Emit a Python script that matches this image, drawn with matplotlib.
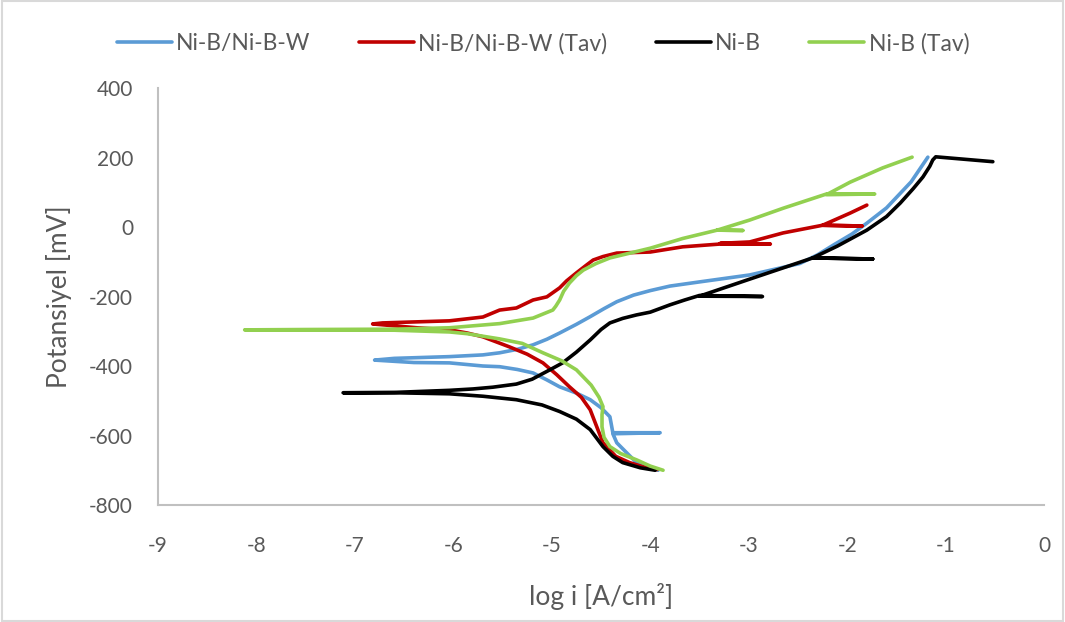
import matplotlib.pyplot as plt
from matplotlib.patches import Rectangle

# Ni-B/Ni-B-W (blue): cathodic tip -> Ecorr -> anodic end
nibw_x = [-3.92, -4.14, -4.34, -4.38, -3.90, -4.38, -4.41, -4.50, -4.61, -4.75, -4.92, -5.05,
          -5.19, -5.35, -5.53, -5.70, -6.04, -6.40, -6.80, -6.60, -6.04, -5.70, -5.53, -5.35,
          -5.19, -5.05, -4.92, -4.75, -4.61, -4.47, -4.34, -4.17, -4.00, -3.80, -3.50, -2.99,
          -2.48, -2.30, -2.14, -1.95, -1.80, -1.60, -1.46, -1.35, -1.29, -1.18]
nibw_y = [-700, -678, -621, -595, -592, -592, -546, -520, -497, -478, -460, -440,
          -420, -410, -402, -400, -391, -390, -383, -378, -373, -368, -362, -352,
          -339, -323, -305, -280, -258, -235, -215, -196, -183, -170, -158, -138,
          -105, -80, -52, -20, 11, 55, 97, 130, 155, 201]

# Ni-B/Ni-B-W (Tav) (red)
nibw_tav_x = [-3.93, -4.05, -4.21, -4.35, -4.48, -4.55, -4.61, -4.70, -4.82, -4.95, -5.09, -5.25,
              -5.43, -5.70, -5.86, -6.04, -6.37, -6.82, -6.72, -6.04, -5.70, -5.53, -5.36, -5.19,
              -5.05, -4.92, -4.85, -4.75, -4.65, -4.58, -4.48, -4.34, -4.00, -3.67, -3.29, -2.78,
              -3.29, -2.99, -2.65, -2.25, -1.85, -2.25, -1.97, -1.80]
nibw_tav_y = [-698, -692, -678, -660, -621, -570, -526, -490, -460, -425, -391, -366,
              -345, -316, -305, -296, -290, -279, -276, -270, -259, -239, -233, -210,
              -201, -175, -155, -132, -110, -95, -85, -75, -72, -57, -49, -49,
              -47, -43, -17, 5, 3, 5, 40, 63]

# Ni-B (black)
nib_x = [-3.95, -4.10, -4.28, -4.38, -4.48, -4.61, -4.75, -4.92, -5.10, -5.36, -5.70, -6.04,
         -6.60, -7.12, -6.60, -6.04, -5.80, -5.60, -5.36, -5.20, -5.02, -4.89, -4.75, -4.61,
         -4.50, -4.41, -4.28, -4.14, -4.00, -3.80, -3.65, -3.50, -2.86, -3.50, -2.99, -2.35,
         -1.74, -2.35, -2.10, -1.80, -1.60, -1.46, -1.33, -1.23, -1.16, -1.13, -1.10, -0.52]
nib_y = [-700, -693, -678, -660, -632, -583, -553, -531, -512, -497, -487, -480,
         -477, -477, -476, -470, -466, -461, -452, -438, -411, -391, -360, -325,
         -295, -276, -263, -253, -245, -224, -210, -197, -200, -199, -150, -89,
         -92, -89, -55, -9, 30, 69, 110, 144, 175, 193, 202, 188]

# Ni-B (Tav) (green)
nib_tav_x = [-3.87, -4.00, -4.14, -4.30, -4.41, -4.47, -4.49, -4.49, -4.48, -4.52, -4.60, -4.75,
             -4.90, -5.09, -5.30, -5.53, -5.86, -6.04, -6.60, -7.50, -8.12, -7.50, -6.60, -6.04,
             -5.53, -5.19, -4.99, -4.96, -4.92, -4.88, -4.82, -4.75, -4.68, -4.55, -4.41, -4.00,
             -3.67, -3.32, -3.06, -3.32, -2.99, -2.65, -2.21, -1.72, -2.21, -1.97, -1.64, -1.34]
nib_tav_y = [-700, -688, -670, -652, -632, -605, -575, -540, -517, -490, -455, -411,
             -385, -362, -335, -322, -307, -302, -297, -296, -296, -295, -294, -290,
             -278, -262, -239, -228, -210, -185, -161, -140, -124, -105, -89, -61,
             -33, -9, -10, -9, 20, 54, 95, 95, 93, 129, 170, 201]

names = ['Ni-B/Ni-B-W', 'Ni-B/Ni-B-W (Tav)', 'Ni-B', 'Ni-B (Tav)']
colors = ['#5b9bd5', '#c00000', '#000000', '#92d050']
series = [(nibw_x, nibw_y), (nibw_tav_x, nibw_tav_y), (nib_x, nib_y), (nib_tav_x, nib_tav_y)]

plt.rcParams['font.family'] = ['Lato', 'DejaVu Sans']
plt.rcParams['axes.unicode_minus'] = False
grey = '#595959'

fig = plt.figure(figsize=(10.65, 6.22), dpi=100)
ax = fig.add_axes([0.1484, 0.1881, 0.8319, 0.6704])

for (x, y), c, n in zip(series, colors, names):
    ax.plot(x, y, color=c, lw=2.6, label=n, solid_capstyle='round', solid_joinstyle='round')

ax.set_xlim(-9, 0)
ax.set_ylim(-800, 400)
ax.set_xticks(range(-9, 1))
ax.set_yticks(range(-800, 401, 200))
for s in ['top', 'right']:
    ax.spines[s].set_visible(False)
for s in ['left', 'bottom']:
    ax.spines[s].set_color('#c0c0c0')
    ax.spines[s].set_linewidth(1.5)
ax.tick_params(length=0, colors=grey, labelsize=15)
ax.tick_params(axis='x', pad=22)
ax.tick_params(axis='y', pad=18)

ax.set_xlabel('log i [A/cm²]', fontsize=19, color=grey, labelpad=20)
ax.set_ylabel('Potansiyel [mV]', fontsize=19, color=grey, labelpad=12)

leg = fig.legend(loc='center', bbox_to_anchor=(0.51, 0.93), ncol=4, frameon=False,
                 fontsize=16.5, handlelength=2.4, handletextpad=0.2, columnspacing=2.1)
for t in leg.get_texts():
    t.set_color(grey)

fig.patches.append(Rectangle((0.002, 0.002), 0.996, 0.996, transform=fig.transFigure,
                             fill=False, edgecolor='#d9d9d9', lw=1.5))

fig.savefig('out.png', dpi=100)
